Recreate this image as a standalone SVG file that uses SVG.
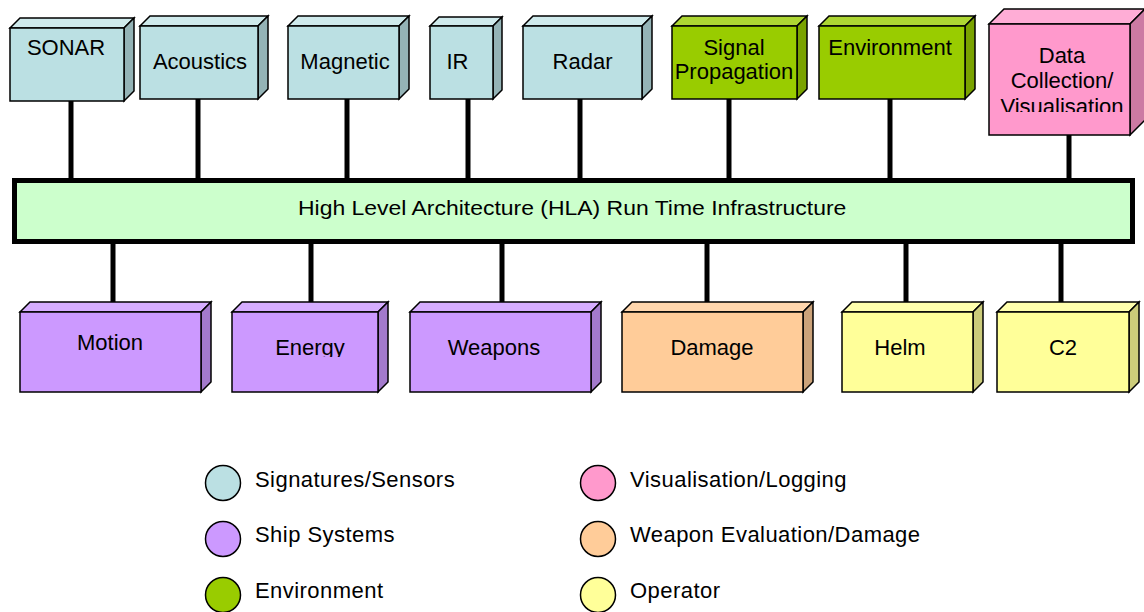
<svg xmlns="http://www.w3.org/2000/svg" width="1144" height="612" viewBox="0 0 1144 612">
<style>
  text { font-family: "Liberation Sans", Arial, sans-serif; font-size: 22px; fill: #000; }
  .c { text-anchor: middle; }
  .box path, .box rect { stroke: #000; stroke-width: 1.5; stroke-linejoin: miter; }
  .conn line { stroke: #000; stroke-width: 5; }
  .sens .f { fill: #BBE0E3; } .sens .t { fill: #CFEAEC; } .sens .s { fill: #94B3B6; }
  .ship .f { fill: #CC99FF; } .ship .t { fill: #D6ADFF; } .ship .s { fill: #A37ACC; }
  .env .f { fill: #99CC00; } .env .t { fill: #ADD633; } .env .s { fill: #7AA300; }
  .vis .f { fill: #FF99CC; } .vis .t { fill: #FFADD6; } .vis .s { fill: #CC7AA3; }
  .dmg .f { fill: #FFCC99; } .dmg .t { fill: #FFD6AD; } .dmg .s { fill: #CCA37A; }
  .op .f { fill: #FFFF99; } .op .t { fill: #FFFFAD; } .op .s { fill: #CCCC7A; }
  .leg circle { stroke: #000; stroke-width: 1.5; }
  .leg text { letter-spacing: 0.45px; }
</style>
<defs>
  <clipPath id="clipData"><rect x="989" y="24" width="141" height="88"/></clipPath>
  <clipPath id="clipEnergy"><rect x="232" y="312" width="146" height="45"/></clipPath>
</defs>

<g id="connectors" class="conn">
  <line x1="71" y1="101" x2="71" y2="180"/>
  <line x1="198" y1="99" x2="198" y2="180"/>
  <line x1="347" y1="99" x2="347" y2="180"/>
  <line x1="468" y1="99" x2="468" y2="180"/>
  <line x1="580" y1="99" x2="580" y2="180"/>
  <line x1="729" y1="99" x2="729" y2="180"/>
  <line x1="890" y1="99" x2="890" y2="180"/>
  <line x1="1069" y1="135" x2="1069" y2="180"/>
  <line x1="113" y1="242" x2="113" y2="302"/>
  <line x1="311" y1="242" x2="311" y2="302"/>
  <line x1="502" y1="242" x2="502" y2="302"/>
  <line x1="707" y1="242" x2="707" y2="302"/>
  <line x1="906" y1="242" x2="906" y2="302"/>
  <line x1="1061" y1="242" x2="1061" y2="302"/>
</g>

<g id="hla">
  <rect x="14.5" y="180.5" width="1118" height="61" fill="#CCFFCC" stroke="#000" stroke-width="5"/>
  <text x="0" y="0" style="font-size:20px" transform="translate(298,215) scale(1.148,1)">High Level Architecture (HLA) Run Time Infrastructure</text>
</g>

<!-- top row -->
<g id="sonar" class="box sens">
  <path class="t" d="M10,28 L20,18 L134,18 L124,28 Z"/>
  <path class="s" d="M124,28 L134,18 L134,91 L124,101 Z"/>
  <rect class="f" x="10" y="28" width="114" height="73"/>
  <text class="c" x="66" y="55">SONAR</text>
</g>
<g id="acoustics" class="box sens">
  <path class="t" d="M140,26 L150,16 L268,16 L258,26 Z"/>
  <path class="s" d="M258,26 L268,16 L268,89 L258,99 Z"/>
  <rect class="f" x="140" y="26" width="118" height="73"/>
  <text class="c" x="200" y="69">Acoustics</text>
</g>
<g id="magnetic" class="box sens">
  <path class="t" d="M288,26 L298,16 L409,16 L399,26 Z"/>
  <path class="s" d="M399,26 L409,16 L409,89 L399,99 Z"/>
  <rect class="f" x="288" y="26" width="111" height="73"/>
  <text class="c" x="345" y="69">Magnetic</text>
</g>
<g id="ir" class="box sens">
  <path class="t" d="M430,26 L439,17 L502,17 L493,26 Z"/>
  <path class="s" d="M493,26 L502,17 L502,90 L493,99 Z"/>
  <rect class="f" x="430" y="26" width="63" height="73"/>
  <text class="c" x="457.5" y="69">IR</text>
</g>
<g id="radar" class="box sens">
  <path class="t" d="M523,26 L533,16 L652,16 L642,26 Z"/>
  <path class="s" d="M642,26 L652,16 L652,89 L642,99 Z"/>
  <rect class="f" x="523" y="26" width="119" height="73"/>
  <text class="c" x="582.5" y="69">Radar</text>
</g>
<g id="signal" class="box env">
  <path class="t" d="M672,26 L682,16 L807,16 L797,26 Z"/>
  <path class="s" d="M797,26 L807,16 L807,89 L797,99 Z"/>
  <rect class="f" x="672" y="26" width="125" height="73"/>
  <text class="c" x="734" y="55">Signal</text>
  <text class="c" x="734" y="79">Propagation</text>
</g>
<g id="environment" class="box env">
  <path class="t" d="M819,26 L829,16 L975,16 L965,26 Z"/>
  <path class="s" d="M965,26 L975,16 L975,89 L965,99 Z"/>
  <rect class="f" x="819" y="26" width="146" height="73"/>
  <text class="c" x="890" y="55">Environment</text>
</g>
<g id="datacollection" class="box vis">
  <path class="t" d="M989,24 L1004,9 L1145,9 L1130,24 Z"/>
  <path class="s" d="M1130,24 L1145,9 L1145,120 L1130,135 Z"/>
  <rect class="f" x="989" y="24" width="141" height="111"/>
  <g clip-path="url(#clipData)">
    <text class="c" x="1062" y="63">Data</text>
    <text class="c" x="1062" y="88">Collection/</text>
    <text class="c" x="1062" y="113.5">Visualisation</text>
  </g>
</g>

<!-- bottom row -->
<g id="motion" class="box ship">
  <path class="t" d="M20,312 L30,302 L211,302 L201,312 Z"/>
  <path class="s" d="M201,312 L211,302 L211,382 L201,392 Z"/>
  <rect class="f" x="20" y="312" width="181" height="80"/>
  <text class="c" x="110" y="350">Motion</text>
</g>
<g id="energy" class="box ship">
  <path class="t" d="M232,312 L242,302 L388,302 L378,312 Z"/>
  <path class="s" d="M378,312 L388,302 L388,382 L378,392 Z"/>
  <rect class="f" x="232" y="312" width="146" height="80"/>
  <text class="c" x="310" y="355" clip-path="url(#clipEnergy)">Energy</text>
</g>
<g id="weapons" class="box ship">
  <path class="t" d="M410,312 L420,302 L601,302 L591,312 Z"/>
  <path class="s" d="M591,312 L601,302 L601,382 L591,392 Z"/>
  <rect class="f" x="410" y="312" width="181" height="80"/>
  <text class="c" x="494" y="355">Weapons</text>
</g>
<g id="damage" class="box dmg">
  <path class="t" d="M622,312 L632,302 L813,302 L803,312 Z"/>
  <path class="s" d="M803,312 L813,302 L813,382 L803,392 Z"/>
  <rect class="f" x="622" y="312" width="181" height="80"/>
  <text class="c" x="712" y="355">Damage</text>
</g>
<g id="helm" class="box op">
  <path class="t" d="M842,312 L852,302 L983,302 L973,312 Z"/>
  <path class="s" d="M973,312 L983,302 L983,382 L973,392 Z"/>
  <rect class="f" x="842" y="312" width="131" height="80"/>
  <text class="c" x="900" y="355">Helm</text>
</g>
<g id="c2" class="box op">
  <path class="t" d="M997,312 L1007,302 L1139,302 L1129,312 Z"/>
  <path class="s" d="M1129,312 L1139,302 L1139,382 L1129,392 Z"/>
  <rect class="f" x="997" y="312" width="132" height="80"/>
  <text class="c" x="1063" y="355">C2</text>
</g>

<!-- legend -->
<g id="legend" class="leg">
  <circle cx="223" cy="483" r="17.5" fill="#BBE0E3"/>
  <text x="255" y="487">Signatures/Sensors</text>
  <circle cx="223" cy="539" r="17.5" fill="#CC99FF"/>
  <text x="255" y="542">Ship Systems</text>
  <circle cx="223" cy="595" r="17.5" fill="#99CC00"/>
  <text x="255" y="598">Environment</text>
  <circle cx="598" cy="483" r="17.5" fill="#FF99CC"/>
  <text x="630" y="487">Visualisation/Logging</text>
  <circle cx="598" cy="539" r="17.5" fill="#FFCC99"/>
  <text x="630" y="542">Weapon Evaluation/Damage</text>
  <circle cx="598" cy="595" r="17.5" fill="#FFFF99"/>
  <text x="630" y="598">Operator</text>
</g>
</svg>
